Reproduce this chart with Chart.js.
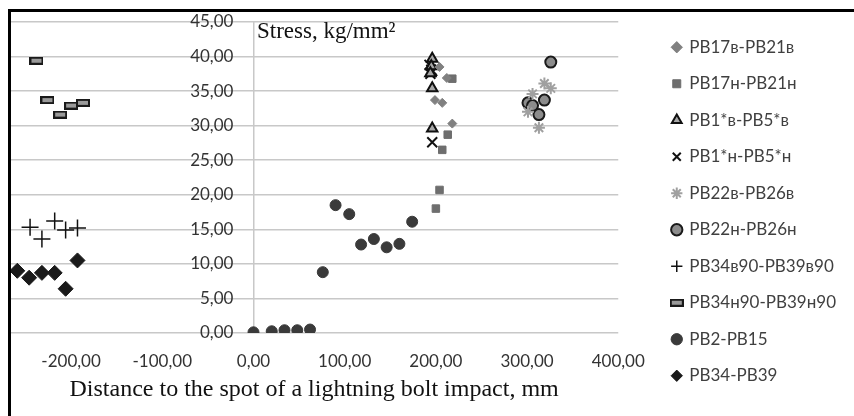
<!DOCTYPE html>
<html>
<head>
<meta charset="utf-8">
<script src="https://cdn.jsdelivr.net/npm/chart.js@4"></script>
<style>
  body { margin: 0; background: #fff; }
  #wrap { width: 854px; height: 416px; position: relative; }
</style>
</head>
<body>
<div id="wrap"><canvas id="stressChart"></canvas></div>
<script>
// distance to bolt spot (mm) and stress (kg/mm2)
const pb17vX = [204, 212, 199, 207, 218];
const pb17vY = [38.5, 36.9, 33.7, 33.3, 30.3];
const pb17nX = [218, 213, 207, 204, 200];
const pb17nY = [36.8, 28.7, 26.5, 20.7, 18.0];
const pb1vX = [196, 195, 194, 196, 196];
const pb1vY = [39.7, 38.6, 37.6, 35.4, 29.6];
const pb1nX = [193, 195, 194, 196, 196];
const pb1nY = [38.8, 38.1, 37.5, 37.9, 27.6];
const pb22vX = [319, 326, 306, 301, 313];
const pb22vY = [36.1, 35.4, 34.6, 32.0, 29.7];
const pb22nX = [326, 301, 306, 319, 313];
const pb22nY = [39.2, 33.3, 32.9, 33.7, 31.6];
const pb34v90X = [-245, -232, -218, -206, -193];
const pb34v90Y = [15.3, 13.6, 16.2, 14.9, 15.2];
const pb34n90X = [-238, -226, -212, -200, -187];
const pb34n90Y = [39.4, 33.7, 31.6, 32.9, 33.3];
const pb2X = [0, 20, 34, 48, 62, 76, 90, 105, 118, 132, 146, 160, 174];
const pb2Y = [0.1, 0.25, 0.4, 0.4, 0.5, 8.8, 18.5, 17.2, 12.8, 13.6, 12.4, 12.9, 16.1];
const pb34X = [-259, -246, -232, -218, -206, -193];
const pb34Y = [9.0, 8.0, 8.7, 8.7, 6.4, 10.5];

const xTicks = [-200, -100, 0, 100, 200, 300, 400];

const pts = (xs, ys) => xs.map((x, i) => ({ x: x, y: ys[i] }));
const fmt = v => Number(v).toFixed(2).replace('.', ',');

// flat rectangle marker for PB34н90-PB39н90
const dash = document.createElement('canvas');
dash.width = 14; dash.height = 8;
const dctx = dash.getContext('2d');
dctx.fillStyle = '#9a9a9a';
dctx.fillRect(1, 1, 12, 6);
dctx.strokeStyle = '#1a1a1a';
dctx.lineWidth = 2;
dctx.strokeRect(1, 1, 12, 6);

const frame = {
  id: 'frame',
  afterDraw(chart) {
    const c = chart.ctx;
    c.save();
    c.fillStyle = '#000';
    c.fillRect(8, 9, 846, 3);
    c.fillRect(8, 9, 3, 407);
    // y-axis title sits inside the plot
    c.fillStyle = '#111';
    c.font = '23px "Liberation Serif"';
    c.textBaseline = 'alphabetic';
    c.fillText('Stress, kg/mm²', 257, 38);
    c.restore();
  }
};

// empty axes used only as spacers
const spacer = (pos, size) => ({
  type: 'linear',
  position: pos,
  display: true,
  grid: { display: false },
  border: { display: false },
  ticks: { display: false },
  afterFit: s => { if (pos === 'top') s.height = size; else s.width = size; }
});

new Chart(document.getElementById('stressChart'), {
  type: 'scatter',
  data: {
    datasets: [
      { label: 'PB17в-PB21в', data: pts(pb17vX, pb17vY), pointStyle: 'rectRot', pointRadius: 4.5,
        backgroundColor: '#808080', borderColor: '#808080', borderWidth: 1 },
      { label: 'PB17н-PB21н', data: pts(pb17nX, pb17nY), pointStyle: 'rect', pointRadius: 5.3,
        backgroundColor: '#6e6e6e', borderColor: '#6e6e6e', borderWidth: 1 },
      { label: 'PB1*в-PB5*в', data: pts(pb1vX, pb1vY), pointStyle: 'triangle', pointRadius: 6,
        backgroundColor: '#a8a8a8', borderColor: '#111', borderWidth: 2 },
      { label: 'PB1*н-PB5*н', data: pts(pb1nX, pb1nY), pointStyle: 'crossRot', pointRadius: 7,
        backgroundColor: '#111', borderColor: '#111', borderWidth: 2 },
      { label: 'PB22в-PB26в', data: pts(pb22vX, pb22vY), pointStyle: 'star', pointRadius: 6,
        backgroundColor: '#a0a0a0', borderColor: '#a0a0a0', borderWidth: 2 },
      { label: 'PB22н-PB26н', data: pts(pb22nX, pb22nY), pointStyle: 'circle', pointRadius: 5.5,
        backgroundColor: '#8c8c8c', borderColor: '#1a1a1a', borderWidth: 2 },
      { label: 'PB34в90-PB39в90', data: pts(pb34v90X, pb34v90Y), pointStyle: 'cross', pointRadius: 8.5,
        backgroundColor: '#111', borderColor: '#111', borderWidth: 1.5 },
      { label: 'PB34н90-PB39н90', data: pts(pb34n90X, pb34n90Y), pointStyle: dash,
        backgroundColor: '#9a9a9a', borderColor: '#1a1a1a', borderWidth: 2 },
      { label: 'PB2-PB15', data: pts(pb2X, pb2Y), pointStyle: 'circle', pointRadius: 5.5,
        backgroundColor: '#3a3a3a', borderColor: '#3a3a3a', borderWidth: 1 },
      { label: 'PB34-PB39', data: pts(pb34X, pb34Y), pointStyle: 'rectRot', pointRadius: 7.5,
        backgroundColor: '#1a1a1a', borderColor: '#1a1a1a', borderWidth: 1 }
    ]
  },
  options: {
    responsive: true,
    maintainAspectRatio: false,
    animation: false,
    layout: { padding: { top: 7, left: 10, bottom: 0, right: 8 } },
    plugins: {
      legend: {
        position: 'right',
        maxWidth: 300,
        labels: {
          usePointStyle: true,
          boxWidth: 8,
          boxHeight: 8,
          padding: 19.5,
          color: '#404040',
          font: { family: 'Lato', size: 17 }
        }
      },
      tooltip: { enabled: false }
    },
    scales: {
      x: {
        type: 'linear',
        position: 'bottom',
        min: -267,
        max: 400,
        afterBuildTicks: axis => { axis.ticks = xTicks.map(v => ({ value: v })); },
        afterFit: axis => { axis.height = 83; },
        // only the zero line is shown, it stands in for the vertical axis
        grid: {
          drawTicks: false,
          lineWidth: 1.5,
          color: ctx => (ctx.tick && ctx.tick.value === 0 ? '#c8c8c8' : 'rgba(0,0,0,0)')
        },
        border: { display: false },
        ticks: { padding: 18, color: '#333', font: { family: 'Lato', size: 17 }, callback: fmt },
        title: {
          display: true,
          text: 'Distance to the spot of a lightning bolt impact, mm',
          color: '#111',
          font: { family: 'Liberation Serif', size: 24 },
          padding: { top: 4, bottom: 12 }
        }
      },
      y: {
        type: 'linear',
        position: { x: -22 },
        min: 0,
        max: 45,
        grid: { color: '#c8c8c8', lineWidth: 1.5, drawTicks: false },
        border: { display: false },
        ticks: { stepSize: 5, padding: 0, color: '#333', font: { family: 'Lato', size: 17 }, callback: fmt }
      },
      topGap: spacer('top', 15),
      rightGap: spacer('right', 35)
    }
  },
  plugins: [frame]
});
</script>
</body>
</html>
